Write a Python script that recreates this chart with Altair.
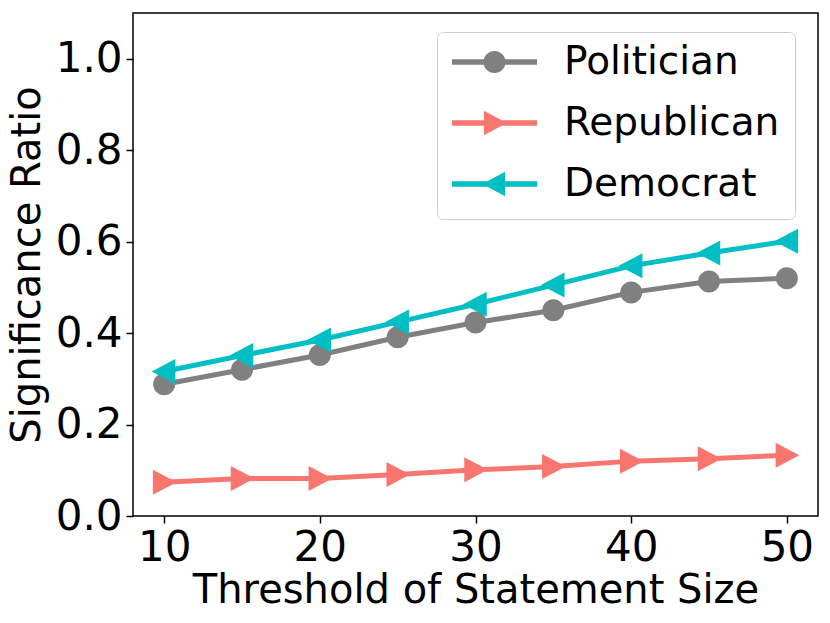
import altair as alt
import pandas as pd

thresholds = [10, 15, 20, 25, 30, 35, 40, 45, 50]
politician = [0.288, 0.320, 0.352, 0.391, 0.423, 0.450, 0.489, 0.513, 0.520]
republican = [0.074, 0.082, 0.082, 0.091, 0.101, 0.108, 0.120, 0.125, 0.133]
democrat = [0.316, 0.351, 0.385, 0.424, 0.463, 0.505, 0.547, 0.575, 0.601]

series_names = ["Politician", "Republican", "Democrat"]
series_values = [politician, republican, democrat]
colors = ["#808080", "#F8766D", "#00BFC4"]

x_ticks = [10, 20, 30, 40, 50]
y_ticks = [0.0, 0.2, 0.4, 0.6, 0.8, 1.0]

# marker paths (chart) and combined line+marker paths (legend)
marker_paths = [
    "M0.88,0A0.88,0.88,0,1,1,-0.88,0A0.88,0.88,0,1,1,0.88,0Z",
    "M-0.9,-1L1,0L-0.9,1Z",
    "M0.9,-1L-1,0L0.9,1Z",
]
legend_paths = [
    "M-1,-0.065H1V0.065H-1Z M0.26,0A0.26,0.26,0,1,1,-0.26,0A0.26,0.26,0,1,1,0.26,0Z",
    "M-1,-0.065H1V0.065H-1Z M-0.25,-0.29L0.29,0L-0.25,0.29Z",
    "M-1,-0.065H1V0.065H-1Z M0.25,0.29L-0.29,0L0.25,-0.29Z",
]

rows = []
for name, vals in zip(series_names, series_values):
    for t, v in zip(thresholds, vals):
        rows.append({"threshold": t, "ratio": v, "series": name})
df = pd.DataFrame(rows)

FONT = "DejaVu Sans"

x_enc = alt.X(
    "threshold:Q",
    scale=alt.Scale(domain=[8, 52], nice=False, zero=False),
    axis=alt.Axis(values=x_ticks, title="Threshold of Statement Size", format="d"),
)
y_enc = alt.Y(
    "ratio:Q",
    scale=alt.Scale(domain=[0, 1.1], nice=False),
    axis=alt.Axis(values=y_ticks, title="Significance Ratio", format=".1f"),
)

base = alt.Chart(df)
layers = []
for name, col, mp in zip(series_names, colors, marker_paths):
    sub = base.transform_filter(alt.datum.series == name)
    layers.append(
        sub.mark_line(color=col, strokeWidth=5).encode(x=x_enc, y=y_enc)
    )
    layers.append(
        sub.mark_point(shape=mp, filled=True, size=625, color=col, opacity=1, strokeWidth=0).encode(
            x=x_enc, y=y_enc
        )
    )

legend_layer = base.transform_filter("false").mark_point(filled=True, opacity=1).encode(
    x=x_enc,
    y=y_enc,
    color=alt.Color(
        "series:N",
        scale=alt.Scale(domain=series_names, range=colors),
        legend=alt.Legend(
            title=None,
            orient="none",
            legendX=304,
            legendY=19,
            padding=15,
            symbolSize=7225,
            symbolStrokeWidth=0,
            symbolOpacity=1,
            clipHeight=30,
            rowPadding=22,
            labelOffset=27,
            labelLimit=400,
            labelFont=FONT,
            labelFontSize=39,
            labelColor="#000000",
            strokeColor="#cccccc",
            fillColor="#ffffff",
            cornerRadius=6,
        ),
    ),
    shape=alt.Shape(
        "series:N",
        scale=alt.Scale(domain=series_names, range=legend_paths),
        legend=alt.Legend(title=None, orient="none", legendX=304, legendY=19),
    ),
)

chart = (
    alt.layer(*layers, legend_layer)
    .properties(
        width=685,
        height=503,
        autosize=alt.AutoSizeParams(type="none"),
        padding={"left": 125, "top": 5, "right": 4, "bottom": 95},
    )
    .configure_view(stroke="#000000", strokeWidth=1.5)
    .configure_axis(
        grid=False,
        domain=False,
        tickColor="#000000",
        tickWidth=1.5,
        tickSize=7,
        labelFont=FONT,
        labelFontSize=42,
        labelColor="#000000",
        labelPadding=4,
        titleFont=FONT,
        titleFontSize=40,
        titleFontWeight="normal",
        titleColor="#000000",
    )
    .configure_axisX(titlePadding=2)
    .configure_axisY(titlePadding=8)
)

chart.save("out.html", embed_options={"renderer": "svg", "actions": False})
